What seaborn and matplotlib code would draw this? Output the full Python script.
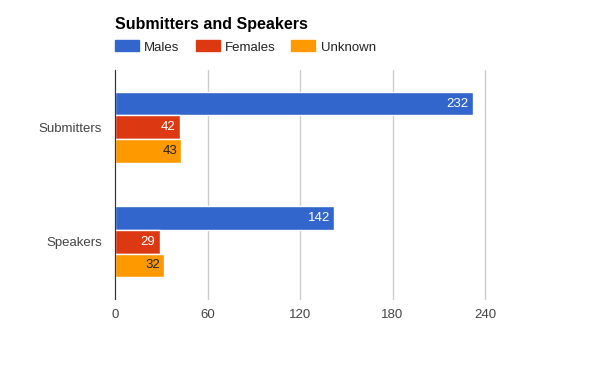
import pandas as pd
import seaborn as sns
import matplotlib.pyplot as plt

# data
categories = ["Submitters", "Speakers"]
genders = ["Males", "Females", "Unknown"]
males = [232, 142]
females = [42, 29]
unknown = [43, 32]
x_ticks = [0, 60, 120, 180, 240]

colores = ["#3366CC", "#DC3912", "#FF9900"]
color_texto = ["white", "white", "#222222"]

df = pd.DataFrame({"categoria": categories, "Males": males,
                   "Females": females, "Unknown": unknown})
df_largo = df.melt(id_vars=["categoria"], value_vars=genders,
                   var_name="genero", value_name="cantidad")

sns.set_style("white")
plt.rcParams["font.family"] = ["Liberation Sans", "DejaVu Sans"]

fig = plt.figure(figsize=(6, 3.71), dpi=100)
ax = fig.add_axes([115 / 600, 1 - 299 / 371, 370 / 600, 229 / 371])

sns.barplot(data=df_largo, y="categoria", x="cantidad", hue="genero",
            hue_order=genders, order=categories, palette=colores,
            saturation=1, orient="h", width=0.62, edgecolor="white",
            linewidth=1, legend=False, ax=ax)

# value labels inside the bar ends
for cont, col in zip(ax.containers, color_texto):
    textos = ax.bar_label(cont, label_type="edge", padding=-3, color=col,
                          fontsize=9.5)
    for t in textos:
        t.set_ha("right")

ax.set_xlim(0, 240)
ax.set_xticks(x_ticks)
ax.set_xticklabels([str(t) for t in x_ticks])
ax.grid(axis="x", color="#cccccc", linewidth=1)
for gl in ax.get_xgridlines():
    gl.set_clip_on(False)
ax.set_axisbelow(True)
for lado in ["top", "right", "bottom"]:
    ax.spines[lado].set_visible(False)
ax.spines["left"].set_color("#333333")
ax.spines["left"].set_zorder(3)
ax.tick_params(axis="both", length=0, labelsize=9.5, colors="#444444")
ax.tick_params(axis="x", pad=7)
ax.tick_params(axis="y", pad=9.5)
ax.set_xlabel("")
ax.set_ylabel("")

fig.text(115 / 600, 1 - 25 / 371, "Submitters and Speakers",
         fontsize=11.5, fontweight="bold", color="#000000", va="center")

handles = [plt.Rectangle((0, 0), 1, 1, color=c) for c in colores]
fig.legend(handles, genders, loc="center left", ncol=3, frameon=False,
           bbox_to_anchor=(115 / 600, 1 - 47 / 371),
           fontsize=9.5, handlelength=1.82, handleheight=0.9,
           handletextpad=0.4, columnspacing=1.2, labelcolor="#222222",
           borderaxespad=0, borderpad=0)

fig.savefig("out.png", dpi=100)
